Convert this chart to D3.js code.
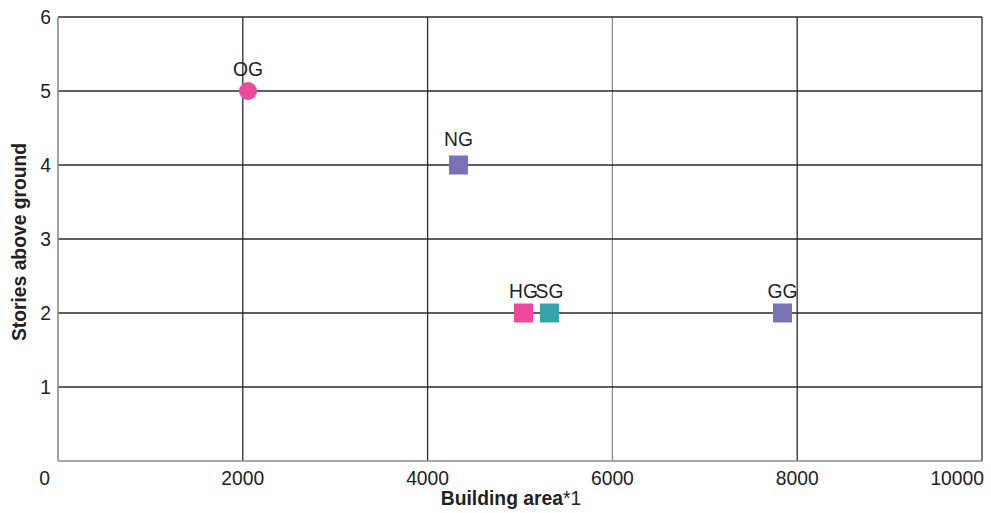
<!DOCTYPE html>
<html><head><meta charset="utf-8">
<script src="https://cdn.jsdelivr.net/npm/d3@7"></script>
<style>body{margin:0;background:#fff}svg{display:block}text{font-family:"Liberation Sans",Arial,sans-serif;fill:#222}</style>
</head><body>
<svg id="c" width="991" height="513"></svg>
<script>
const names = ["OG","NG","HG","SG","GG"];
const areas = [2056, 4334, 5038, 5319, 7841];
const stories = [5, 4, 2, 2, 2];
const shapes = ["circle","square","square","square","square"];
const colors = ["#ee4a9b","#7a72b6","#ee4a9b","#34a3aa","#7a72b6"];
const xTicks = [0,2000,4000,6000,8000,10000];
const yTicks = [1,2,3,4,5,6];

const svg = d3.select("#c");
const L=58,R=982,T=17,B=461;
const x = d3.scaleLinear().domain([0,10000]).range([L,R]);
const y = d3.scaleLinear().domain([0,6]).range([B,T]);

// grid
svg.append("g").selectAll("line").data(xTicks.slice(1)).join("line")
  .attr("x1",d=>x(d)).attr("x2",d=>x(d)).attr("y1",T).attr("y2",B)
  .attr("stroke",d=>d===6000?"#8a8a8a":"#2a2a2a").attr("stroke-width",1.3);
svg.append("g").selectAll("line").data(yTicks).join("line")
  .attr("x1",L).attr("x2",R).attr("y1",d=>y(d)).attr("y2",d=>y(d))
  .attr("stroke","#2a2a2a").attr("stroke-width",1.3);
// axes lines
svg.append("line").attr("x1",L).attr("x2",L).attr("y1",T).attr("y2",B).attr("stroke","#8a8a8a").attr("stroke-width",1.6);
svg.append("line").attr("x1",L).attr("x2",R).attr("y1",B).attr("y2",B).attr("stroke","#8a8a8a").attr("stroke-width",1.6);

// tick labels
svg.append("g").selectAll("text").data(xTicks).join("text")
  .attr("x",(d,i)=> i===0 ? x(d)-8 : (i===xTicks.length-1 ? x(d)+2 : x(d)))
  .attr("y",485)
  .attr("text-anchor",(d,i)=> i===0||i===xTicks.length-1 ? "end" : "middle")
  .style("font-size","19.3px").text(d=>d);
svg.append("g").selectAll("text").data(yTicks).join("text")
  .attr("x",L-7).attr("y",d=>y(d)).attr("dy","0.35em")
  .attr("text-anchor","end").style("font-size","19.3px").text(d=>d);

// axis titles
const xt = svg.append("text").attr("x",511).attr("y",505).attr("text-anchor","middle").style("font-size","19.3px");
xt.append("tspan").style("font-weight","bold").text("Building area");
xt.append("tspan").text("*1");
svg.append("text").attr("transform","translate(26,242) rotate(-90)").attr("text-anchor","middle")
  .style("font-size","19.3px").style("font-weight","bold").text("Stories above ground");

// points
const pts = names.map((n,i)=>({n, a:areas[i], s:stories[i], shape:shapes[i], c:colors[i]}));
const g = svg.append("g");
pts.forEach(p=>{
  if(p.shape==="circle"){
    g.append("circle").attr("cx",x(p.a)).attr("cy",y(p.s)).attr("r",9).attr("fill",p.c);
  } else {
    g.append("rect").attr("x",x(p.a)-9.5).attr("y",y(p.s)-9.5).attr("width",19).attr("height",19).attr("fill",p.c);
  }
});
g.selectAll("text").data(pts).join("text")
  .attr("x",d=>x(d.a)).attr("y",d=>y(d.s)-(d.n==="NG"?19:15)).attr("text-anchor","middle")
  .style("font-size","19.3px").text(d=>d.n);
</script>
</body></html>
